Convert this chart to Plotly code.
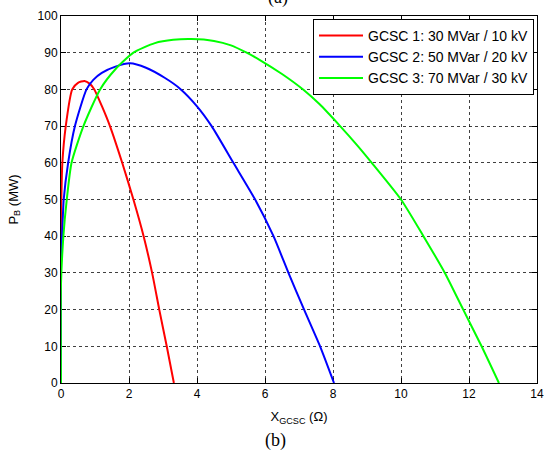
import plotly.graph_objects as go

# ---- data ----
names = ["GCSC 1: 30 MVar / 10 kV", "GCSC 2: 50 MVar / 20 kV", "GCSC 3: 70 MVar / 30 kV"]
colors = ["#ff0000", "#0000ff", "#00ff00"]

x1 = [0, 0, 0.01, 0.04, 0.14, 0.33, 0.5, 0.69, 0.85, 0.98, 1.2, 1.44, 1.8, 2.13, 2.43, 2.68, 2.89, 3.11, 3.32]
y1 = [0, 40, 50, 60, 70, 80, 81.8, 82.3, 81.5, 80, 75.5, 70, 60, 50, 40, 30, 20, 10, 0]

x2 = [0, 0, 0.03, 0.08, 0.21, 0.41, 0.75, 0.95, 1.2, 1.6, 2.03, 2.5, 3.06, 3.5, 4.0, 4.43, 5.07, 5.71, 6.25, 6.69, 7.15, 7.62, 8.03]
y2 = [0, 35, 40, 50, 60, 70, 80, 82.6, 84.5, 86.2, 87.1, 85.9, 83.1, 80.2, 75.4, 70, 60, 50, 40, 30, 20, 10, 0]

x3 = [0, 0, 0.07, 0.17, 0.31, 0.66, 1.15, 1.6, 2.13, 2.76, 3.3, 3.84, 4.5, 5.0, 5.46, 5.85, 6.5, 7.13, 7.6, 8.21, 8.7, 9.14, 10.0, 10.66, 11.29, 11.83, 12.37, 12.88]
y3 = [0, 27, 40, 50, 60, 70, 80, 85.5, 90, 92.6, 93.5, 93.7, 93.2, 92, 90, 88, 84.2, 79.9, 76, 70, 64.9, 60, 50, 40, 30, 20, 10, 0]

x_ticks = [0, 2, 4, 6, 8, 10, 12, 14]
y_ticks = [0, 10, 20, 30, 40, 50, 60, 70, 80, 90, 100]

fig = go.Figure()
for xs, ys, nm, c in zip([x1, x2, x3], [y1, y2, y3], names, colors):
    fig.add_trace(go.Scatter(x=xs, y=ys, mode="lines", name=nm,
                             line=dict(color=c, width=2, shape="spline", smoothing=0.6)))

FONT = "Liberation Sans, Arial, sans-serif"
axis_common = dict(
    showline=True, linecolor="black", linewidth=1, mirror="ticks",
    ticks="inside", ticklen=5, tickcolor="black", tickwidth=1,
    showgrid=True, gridcolor="rgba(0,0,0,0.75)", gridwidth=1, griddash="3px,3px",
    zeroline=False, layer="below traces", automargin=False,
    tickfont=dict(family=FONT, size=12, color="black"),
)

fig.update_layout(
    width=544, height=450,
    margin=dict(l=61, r=7, t=16, b=67, autoexpand=False),
    paper_bgcolor="white", plot_bgcolor="white",
    font=dict(family=FONT, size=13, color="black"),
    showlegend=True,
    legend=dict(x=0.9937, y=0.9918, xanchor="right", yanchor="top",
                bgcolor="white", bordercolor="black", borderwidth=1,
                font=dict(family=FONT, size=14, color="black"),
                itemwidth=44, tracegroupgap=0),
    xaxis=dict(range=[0, 14], tickvals=x_ticks,
               title=dict(text="X<sub>GCSC</sub> (Ω)", standoff=11,
                          font=dict(family=FONT, size=13)),
               **axis_common),
    yaxis=dict(range=[0, 100], tickvals=y_ticks,
               title=dict(text="P<sub>B</sub> (MW)", standoff=16,
                          font=dict(family=FONT, size=13)),
               **axis_common),
)

fig.add_annotation(text="(a)", xref="paper", yref="paper", x=0.455, y=1 + 18 / 367,
                   xanchor="center", yanchor="middle", showarrow=False,
                   font=dict(family="Liberation Serif, Times New Roman, serif", size=18, color="black"))
fig.add_annotation(text="(b)", xref="paper", yref="paper", x=0.45, y=-(440 - 383) / 367,
                   xanchor="center", yanchor="middle", showarrow=False,
                   font=dict(family="Liberation Serif, Times New Roman, serif", size=18, color="black"))

fig.write_html("out.html", config={"displayModeBar": False},
               post_script="document.body.style.margin='0';document.body.style.overflow='hidden';")
